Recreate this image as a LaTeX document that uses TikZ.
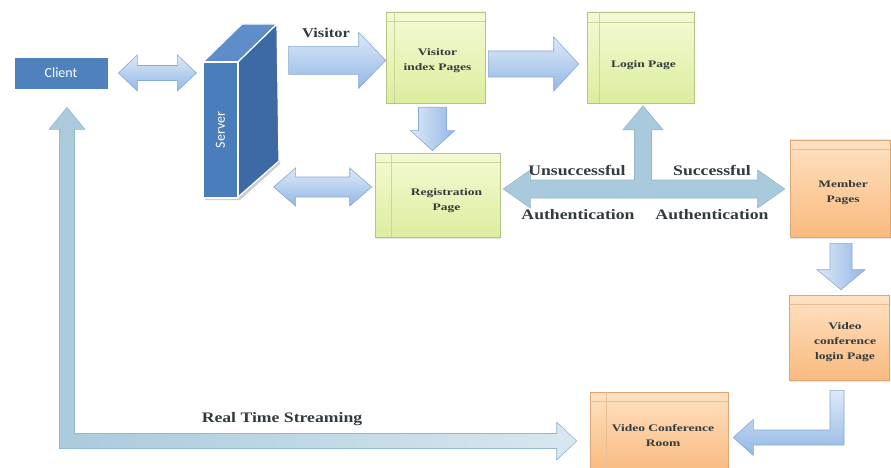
\documentclass[tikz,border=0pt]{standalone}
\usepackage{fontspec}
\setmainfont{Liberation Serif}
\newfontfamily\calib{Carlito}
\newfontfamily\lblfont[FakeStretch=1.22]{Liberation Serif}
\newfontfamily\boxfont[FakeStretch=1.35]{Liberation Serif}
\usetikzlibrary{calc,shadows}
\definecolor{clientblue}{HTML}{4F81BD}
\definecolor{srvfront}{HTML}{4A7DBB}
\definecolor{srvside}{HTML}{3D69A5}
\definecolor{srvtop}{HTML}{5E8DCA}
\definecolor{greentop}{HTML}{F4FAD4}
\definecolor{greenbot}{HTML}{DCEE9E}
\definecolor{greenedge}{HTML}{B4C486}
\definecolor{greenline}{HTML}{C9D79C}
\definecolor{orangetop}{HTML}{FEE1C2}
\definecolor{orangebot}{HTML}{F9BA7E}
\definecolor{orangeedge}{HTML}{DDA572}
\definecolor{orangeline}{HTML}{E9BE92}
\definecolor{arrtop}{HTML}{DDE9F8}
\definecolor{arrbot}{HTML}{93B8E5}
\definecolor{arredge}{HTML}{86A9D6}
\definecolor{authfill}{HTML}{A9CADC}
\definecolor{authedge}{HTML}{93B7CB}
\definecolor{txtgray}{HTML}{333B3F}
\tikzset{
  boxshadow/.style={drop shadow={opacity=0.2,shadow xshift=1pt,shadow yshift=-1.5pt}},
  greenpage/.style={draw=greenedge, line width=0.6pt, top color=greentop, bottom color=greenbot, boxshadow},
  orangepage/.style={draw=orangeedge, line width=0.6pt, top color=orangetop, bottom color=orangebot, boxshadow},
  boxtext/.style={align=center, font=\boxfont\fontsize{10}{15}\selectfont\bfseries, text=txtgray},
  gline/.style={draw=greenline, line width=0.6pt},
  oline/.style={draw=orangeline, line width=0.6pt},
  barrow/.style={draw=arredge, line width=0.6pt, top color=arrtop, bottom color=arrbot},
  varrow/.style={draw=arredge, line width=0.6pt, left color=arrtop, right color=arrbot},
  authrow/.style={draw=authedge, line width=0.6pt, fill=authfill},
  streamrow/.style={draw=authedge, line width=0.6pt, left color=authfill, right color=authfill!45!white},
  lbl/.style={font=\lblfont\fontsize{14.5}{16}\selectfont\bfseries, text=txtgray},
}
% right arrow: tail, tip, shaft half, head half, head length
\newcommand\RArrow[6][barrow]{\path[#1] let \p1=#2, \p2=#3 in
  (\x1,\y1+#4)--(\x2-#6,\y1+#4)--(\x2-#6,\y1+#5)--(\x2,\y1)--(\x2-#6,\y1-#5)--(\x2-#6,\y1-#4)--(\x1,\y1-#4)--cycle;}
% down arrow
\newcommand\DArrow[6][varrow]{\path[#1] let \p1=#2, \p2=#3 in
  (\x1-#4,\y1)--(\x1-#4,\y2+#6)--(\x1-#5,\y2+#6)--(\x1,\y2)--(\x1+#5,\y2+#6)--(\x1+#4,\y2+#6)--(\x1+#4,\y1)--cycle;}
% double horizontal arrow: left tip, right tip
\newcommand\LRArrow[6][barrow]{\path[#1] let \p1=#2, \p2=#3 in
  (\x1,\y1)--(\x1+#6,\y1+#5)--(\x1+#6,\y1+#4)--(\x2-#6,\y1+#4)--(\x2-#6,\y1+#5)--(\x2,\y1)
  --(\x2-#6,\y1-#5)--(\x2-#6,\y1-#4)--(\x1+#6,\y1-#4)--(\x1+#6,\y1-#5)--cycle;}
\begin{document}
\begin{tikzpicture}[x=1pt,y=-1pt]
\fill[white] (0,0) rectangle (891,468);
\useasboundingbox (0,0) rectangle (891,468);

% Client
\node[draw=white, line width=0.8pt, fill=clientblue, minimum width=94pt, minimum height=32pt,
  drop shadow={opacity=0.25,shadow xshift=1pt,shadow yshift=-1.5pt},
  font=\calib\fontsize{14}{16}\selectfont, text=white] (client) at (61,73) {Client};

% Server
\fill[black, opacity=0.2] (205,200) -- (240,200) -- (280,164) -- (280,160) -- (238,197) -- (205,197) -- cycle;
\fill[srvtop, draw=white, line width=1.2pt] (203,62) -- (238,62) -- (277,24) -- (242,24) -- cycle;
\fill[srvside, draw=white, line width=1.2pt] (238,62) -- (277,24) -- (279,161) -- (238,197) -- cycle;
\node[fill=srvfront, draw=white, line width=1.2pt, minimum width=35pt, minimum height=136pt] (srv) at (220.5,130) {};
\node[rotate=90, font=\calib\fontsize{14}{16}\selectfont, text=white] (srvlbl) at (srv.center) {Server};

% pages
\node[greenpage, minimum width=99pt, minimum height=91pt] (vip) at (435.5,57.5) {};
\draw[gline] ($(vip.north west)+(0,10)$) -- ($(vip.north east)+(0,10)$);
\draw[gline] ($(vip.north west)+(9,0)$) -- ($(vip.south west)+(9,0)$);
\node[boxtext] (viptext) at ($(vip.center)+(2,3)$) {Visitor\\index Pages};

\node[greenpage, minimum width=107pt, minimum height=91pt] (login) at (640.5,57.5) {};
\draw[gline] ($(login.north west)+(0,11)$) -- ($(login.north east)+(0,11)$);
\draw[gline] ($(login.north west)+(13,0)$) -- ($(login.south west)+(13,0)$);
\node[boxtext] (logintext) at ($(login.center)+(3,8)$) {Login Page};

\node[greenpage, minimum width=125pt, minimum height=84pt] (reg) at (437.5,195) {};
\draw[gline] ($(reg.north west)+(0,10)$) -- ($(reg.north east)+(0,10)$);
\draw[gline] ($(reg.north west)+(17,0)$) -- ($(reg.south west)+(17,0)$);
\node[boxtext] (regtext) at ($(reg.center)+(9,6)$) {Registration\\Page};

\node[orangepage, minimum width=100pt, minimum height=97pt] (member) at (840,188.5) {};
\draw[oline] ($(member.north west)+(0,10)$) -- ($(member.north east)+(0,10)$);
\node[boxtext] (membertext) at ($(member.center)+(3,4)$) {Member\\Pages};

\node[orangepage, minimum width=100pt, minimum height=85pt] (vcl) at (839,337.5) {};
\draw[oline] ($(vcl.north west)+(0,10)$) -- ($(vcl.north east)+(0,10)$);
\node[boxtext] (vcltext) at ($(vcl.center)+(6,5)$) {Video\\conference\\login Page};

\node[orangepage, minimum width=138pt, minimum height=80pt] (room) at (659,432) {};
\draw[oline] ($(room.north west)+(0,10)$) -- ($(room.north east)+(0,10)$);
\draw[oline] ($(room.north west)+(17,0)$) -- ($(room.south west)+(17,0)$);
\node[boxtext] (roomtext) at ($(room.center)+(4,4)$) {Video Conference\\Room};

% arrows
\LRArrow{($(client.east)+(10,0)$)}{($(srv.west)+(-6,0)$)}{7.5pt}{18pt}{19pt}
\RArrow{($(srv.north east)+(50,-1)$)}{(vip.west)}{14pt}{28pt}{27pt}
\RArrow{($(vip.east)+(3,6.5)$)}{($(login.west)+(-8,0)$)}{13pt}{27pt}{25pt}
\DArrow{($(vip.south)+(-3,4)$)}{($(reg.north)+(0,-2)$)}{14pt}{22pt}{20pt}
\LRArrow{($(srv.east)+(35,57)$)}{($(reg.west)+(-3,0)$)}{10pt}{19pt}{22pt}
\DArrow{($(member.south)+(1,6)$)}{($(vcl.north)+(2,-5)$)}{11pt}{24pt}{20pt}

% L arrow from video conference login to room
\path[barrow] let \p1=($(vcl.south)+(-2,10)$), \p2=($(room.east)+(5,5.5)$) in
  (\x1-7pt,\y1) -- (\x1+7pt,\y1) -- (\x1+7pt,\y2-7.5pt) -- (\x2+20pt,\y2-7.5pt)
  -- (\x2+20pt,\y2-18pt) -- (\x2,\y2) -- (\x2+20pt,\y2+18pt) -- (\x2+20pt,\y2+7.5pt)
  -- (\x1-7pt,\y2+7.5pt) -- cycle;

% authentication T arrow
\path[authrow] let \p1=($(reg.east)+(3,-6)$), \p2=($(member.west)+(-5,0)$), \p3=($(login.south)+(2.5,2.5)$) in
  (\x1,\y1) -- (\x1+27pt,\y1+19pt) -- (\x1+27pt,\y1+9pt) -- (\x3-8.5pt,\y1+9pt)
  -- (\x3-8.5pt,\y3-24pt) -- (\x3-20pt,\y3-24pt) -- (\x3,\y3) -- (\x3+20pt,\y3-24pt)
  -- (\x3+8.5pt,\y3-24pt) -- (\x3+8.5pt,\y1+9pt) -- (\x2-27pt,\y1+9pt) -- (\x2-27pt,\y1+19pt)
  -- (\x2,\y1) -- (\x2-27pt,\y1-19pt) -- (\x2-27pt,\y1-9pt) -- (\x1+27pt,\y1-9pt)
  -- (\x1+27pt,\y1-19pt) -- cycle;

% real time streaming L arrow
\path[streamrow] let \p1=($(client.south)+(6,18)$), \p2=($(room.west)+(-13,9)$) in
  (\x1,\y1) -- (\x1+18pt,\y1-22pt) -- (\x1+7.5pt,\y1-22pt) -- (\x1+7.5pt,\y2+7.5pt)
  -- (\x2-20pt,\y2+7.5pt) -- (\x2-20pt,\y2+19pt) -- (\x2,\y2) -- (\x2-20pt,\y2-19pt)
  -- (\x2-20pt,\y2-7.5pt) -- (\x1-7.5pt,\y2-7.5pt) -- (\x1-7.5pt,\y1-22pt)
  -- (\x1-18pt,\y1-22pt) -- cycle;

% labels
\node[lbl, font=\lblfont\fontsize{13.5}{15}\selectfont\bfseries] (visitorlbl) at (326,33) {Visitor};
\node[lbl] (unsucc) at (577,170) {Unsuccessful};
\node[lbl] (auth1) at (578,215) {Authentication};
\node[lbl] (succ) at (712,170) {Successful};
\node[lbl] (auth2) at (712,215) {Authentication};
\node[lbl, font=\lblfont\fontsize{14.5}{16}\selectfont\bfseries] (rts) at (282,419) {Real Time Streaming};
\end{tikzpicture}
\end{document}
